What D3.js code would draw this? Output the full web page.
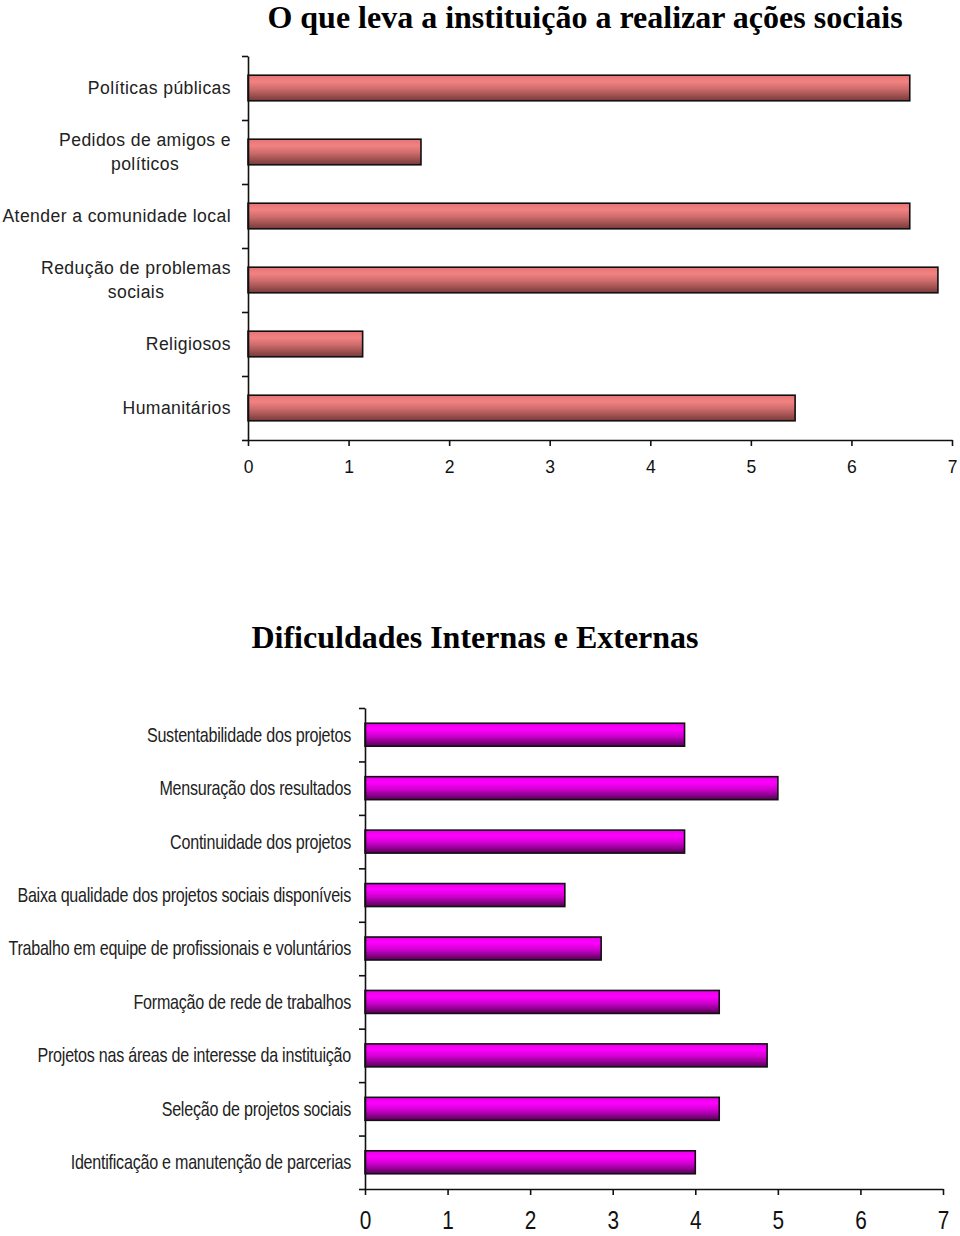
<!DOCTYPE html>
<html>
<head>
<meta charset="utf-8">
<script src="https://cdn.jsdelivr.net/npm/d3@7"></script>
<style>
  body { margin: 0; background: #fff; }
  svg { display: block; }
</style>
</head>
<body>
<svg width="960" height="1236"></svg>
<script>

// chart 1 data
var motivos = ["Políticas públicas", "Pedidos de amigos e\npolíticos", "Atender a comunidade local",
  "Redução de problemas\nsociais", "Religiosos", "Humanitários"];
var motivosValores = [6.58, 1.72, 6.58, 6.86, 1.14, 5.44];

// chart 2 data
var dificuldades = ["Sustentabilidade dos projetos", "Mensuração dos resultados", "Continuidade dos projetos",
  "Baixa qualidade dos projetos sociais disponíveis", "Trabalho em equipe de profissionais e voluntários",
  "Formação de rede de trabalhos", "Projetos nas áreas de interesse da instituição",
  "Seleção de projetos sociais", "Identificação e manutenção de parcerias"];
var dificuldadesValores = [3.87, 5.0, 3.87, 2.42, 2.86, 4.29, 4.87, 4.29, 4.0];

var xTicks = [0, 1, 2, 3, 4, 5, 6, 7];

var svg = d3.select("svg");
var defs = svg.append("defs");

function gradient(id, stops){
    var g = defs.append("linearGradient")
        .attr("id", id)
        .attr("x1", 0).attr("y1", 0)
        .attr("x2", 0).attr("y2", 1);
    stops.forEach(function(s){
        g.append("stop").attr("offset", s[0]).attr("stop-color", s[1]);
    });
}

gradient("gradSalmon", [[0, "#e67373"], [0.25, "#f28282"], [0.55, "#cc6a6a"], [1, "#773a3a"]]);
gradient("gradMagenta", [[0, "#e600e6"], [0.25, "#ff00ff"], [0.55, "#d000d0"], [1, "#560056"]]);

var sans = "'Liberation Sans', Arial, sans-serif";

function drawChart(opt){

    var g = svg.append("g");

    g.append("text")
        .attr("x", opt.titleX)
        .attr("y", opt.titleY)
        .attr("text-anchor", "middle")
        .style("font-family", "'Liberation Serif', 'Times New Roman', serif")
        .style("font-weight", "bold")
        .style("font-size", "32px")
        .attr("fill", "#000")
        .text(opt.title);

    var x = d3.scaleLinear().domain([0, 7]).range([opt.left, opt.right]);
    var y = d3.scaleBand().domain(opt.cats).range([opt.top, opt.bottom]).paddingInner(opt.pad).paddingOuter(opt.pad / 2);
    var yIdx = d3.scaleLinear().domain([0, opt.cats.length]).range([opt.top, opt.bottom]);

    // bars
    g.selectAll(".bar")
        .data(opt.values)
        .enter()
        .append("rect")
        .attr("class", "bar")
        .attr("x", x(0))
        .attr("y", function(d, i){ return y(opt.cats[i]); })
        .attr("width", function(d){ return x(d) - x(0); })
        .attr("height", y.bandwidth())
        .attr("fill", "url(#" + opt.grad + ")")
        .attr("stroke", "#111")
        .attr("stroke-width", 1.6);

    // y axis, ticks between categories
    var yAxis = g.append("g")
        .attr("transform", "translate(" + x(0) + ",0)")
        .call(d3.axisLeft(yIdx).tickValues(d3.range(opt.cats.length + 1)).tickFormat("").tickSize(6).tickSizeOuter(0));

    var xAxis = g.append("g")
        .attr("transform", "translate(0," + opt.bottom + ")")
        .call(d3.axisBottom(x).tickValues(xTicks).tickFormat(d3.format("d")).tickSize(6).tickSizeOuter(0).tickPadding(opt.tickPad));

    [yAxis, xAxis].forEach(function(a){
        a.select(".domain").attr("stroke", "#111").attr("stroke-width", 1.6);
        a.selectAll(".tick line").attr("stroke", "#111").attr("stroke-width", 1.6);
    });

    xAxis.selectAll(".tick text")
        .style("font-family", sans)
        .style("font-size", opt.tickFont)
        .attr("transform", "scale(" + opt.tickSx + ",1)")
        .attr("fill", "#111");

    // category labels
    opt.cats.forEach(function(c, i){
        var lines = c.split("\n");
        var cy = y(c) + y.bandwidth() / 2;
        var t = g.append("text")
            .attr("transform", "translate(" + opt.labelRight + ",0) scale(" + opt.sx + ",1)")
            .style("font-family", sans)
            .style("font-size", opt.labelFont)
            .style("letter-spacing", opt.spacing)
            .attr("fill", "#222");
        var spans = lines.map(function(l, k){
            return t.append("tspan")
                .attr("y", cy + (k - (lines.length - 1) / 2) * opt.lineH)
                .attr("dy", "0.35em")
                .text(l);
        });
        // two-line labels centred on their widest line
        var maxW = d3.max(spans, function(s){ return s.node().getComputedTextLength(); });
        spans.forEach(function(s){
            s.attr("x", -maxW / 2).attr("text-anchor", "middle");
        });
    });
}

drawChart({
    title: "O que leva a instituição a realizar ações sociais",
    titleX: 585, titleY: 28,
    cats: motivos, values: motivosValores,
    left: 248, right: 952, top: 56, bottom: 440,
    pad: 0.6, grad: "gradSalmon",
    labelFont: "17.6px", tickFont: "17.5px", spacing: "0.4px", sx: 1, tickSx: 1,
    labelRight: 231, lineH: 24, tickPad: 15
});

drawChart({
    title: "Dificuldades Internas e Externas",
    titleX: 475, titleY: 648,
    cats: dificuldades, values: dificuldadesValores,
    left: 365, right: 943, top: 708, bottom: 1189,
    pad: 0.57, grad: "gradMagenta",
    labelFont: "20px", tickFont: "26px", spacing: "-0.3px", sx: 0.805, tickSx: 0.8,
    labelRight: 351, lineH: 22, tickPad: 16
});

</script>
</body>
</html>
